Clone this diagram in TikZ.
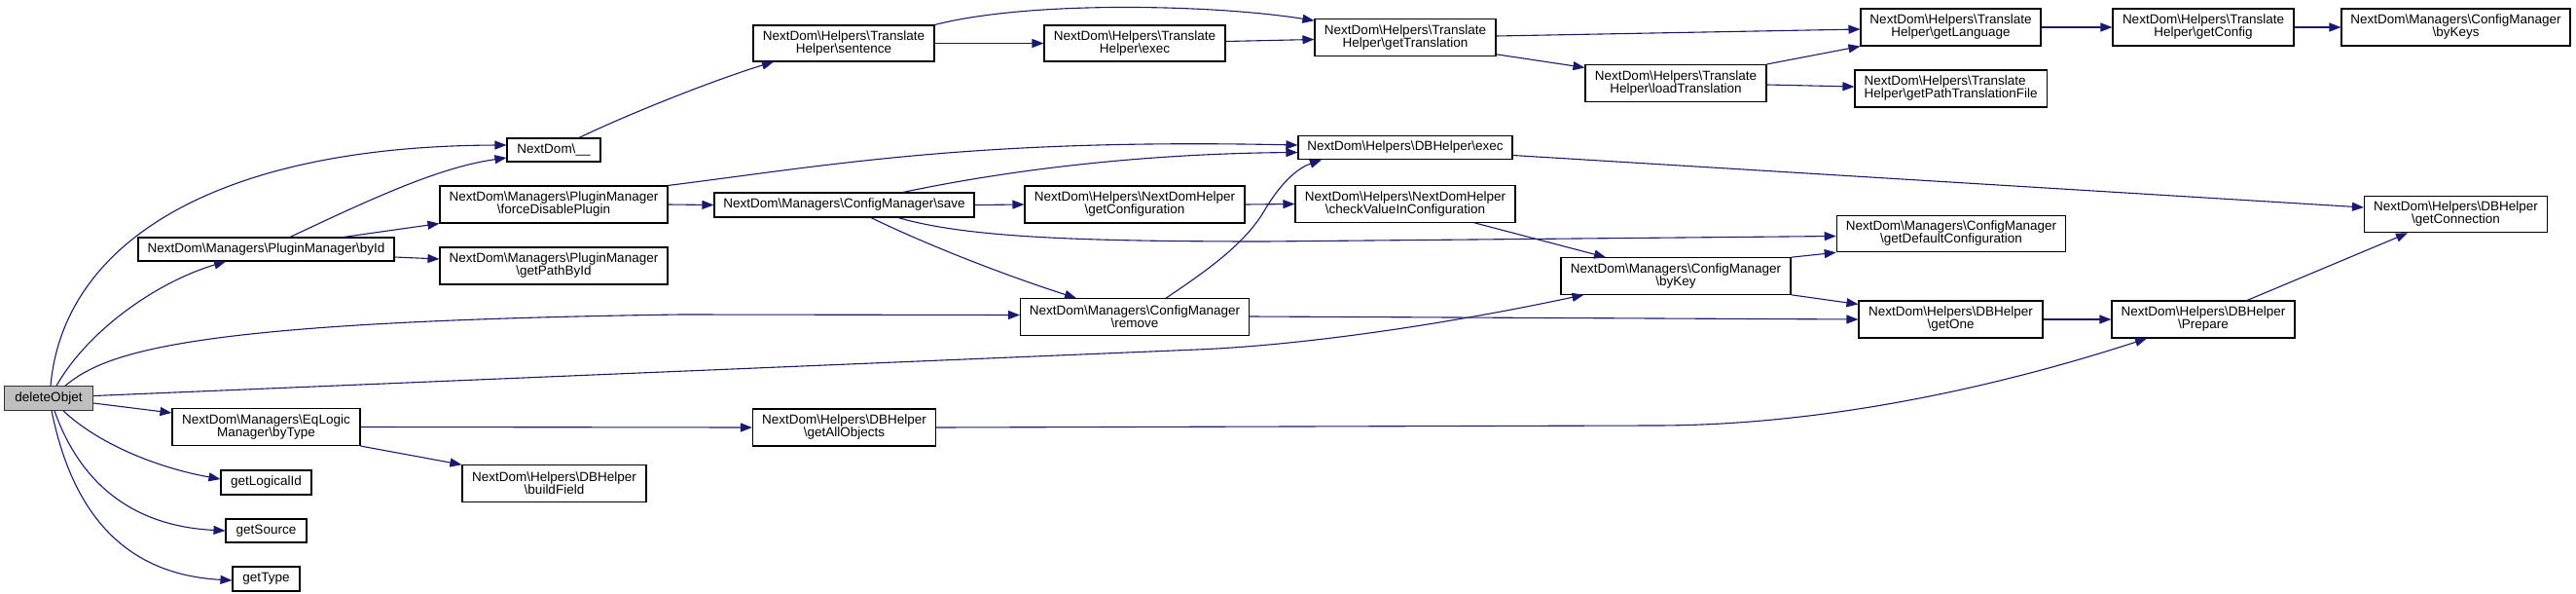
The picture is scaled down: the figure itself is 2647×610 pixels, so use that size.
\documentclass[tikz,border=0pt]{standalone}
\usepackage{fontspec}
\setmainfont{Liberation Sans}
\usetikzlibrary{arrows.meta,calc}
\definecolor{edgeblue}{HTML}{191970}
\definecolor{rootfill}{HTML}{BFBFBF}
\newcommand{\bsl}{\textbackslash}
\tikzset{
  fn/.style={draw=black, line width=1.1pt, rectangle, inner sep=0pt, align=center,
    font=\fontsize{13.5}{13.0}\selectfont, text=black},
  rootnode/.style={fn, fill=rootfill, draw=black!80},
  call/.style={draw=edgeblue, line width=1.1pt, -{Triangle[length=12pt,width=9pt]}, fill=none},
}
\begin{document}
\begin{tikzpicture}[x=1pt,y=-1pt]
\useasboundingbox (0,0) rectangle (2647,610);
% nodes
\node[rootnode, minimum width=91, minimum height=24.5] (del) at (50,409) {deleteObjet};
\node[fn, minimum width=96, minimum height=24] (under) at (569,154) {NextDom\bsl\_\_};
\node[fn, minimum width=263, minimum height=24] (byId) at (273.5,256) {NextDom\bsl Managers\bsl PluginManager\bsl byId};
\node[fn, minimum width=234, minimum height=38] (force) at (569,210) {NextDom\bsl Managers\bsl PluginManager\\\bsl forceDisablePlugin};
\node[fn, minimum width=234, minimum height=38] (pathById) at (569,273) {NextDom\bsl Managers\bsl PluginManager\\\bsl getPathById};
\node[fn, minimum width=193, minimum height=38] (byType) at (273.5,438.5) {NextDom\bsl Managers\bsl EqLogic\\Manager\bsl byType};
\node[fn, minimum width=93, minimum height=25] (logical) at (273.5,495.5) {getLogicalId};
\node[fn, minimum width=83, minimum height=24] (source) at (273.5,545) {getSource};
\node[fn, minimum width=69, minimum height=25] (gtype) at (273.5,594.5) {getType};
\node[fn, minimum width=189, minimum height=37.5] (build) at (569.5,496.5) {NextDom\bsl Helpers\bsl DBHelper\\\bsl buildField};
\node[fn, minimum width=186, minimum height=37] (sentence) at (867,44.5) {NextDom\bsl Helpers\bsl Translate\\Helper\bsl sentence};
\node[fn, minimum width=186, minimum height=37] (texec) at (1166,44.5) {NextDom\bsl Helpers\bsl Translate\\Helper\bsl exec};
\node[fn, minimum width=267, minimum height=25] (save) at (867.5,210.5) {NextDom\bsl Managers\bsl ConfigManager\bsl save};
\node[fn, minimum width=226, minimum height=38] (getconf) at (1166,210) {NextDom\bsl Helpers\bsl NextDomHelper\\\bsl getConfiguration};
\node[fn, minimum width=235, minimum height=37.5] (remove) at (1166,325.5) {NextDom\bsl Managers\bsl ConfigManager\\\bsl remove};
\node[fn, minimum width=188, minimum height=38] (allobj) at (867.5,439) {NextDom\bsl Helpers\bsl DBHelper\\\bsl getAllObjects};
\node[fn, minimum width=186, minimum height=37.5] (gettr) at (1444,38.5) {NextDom\bsl Helpers\bsl Translate\\Helper\bsl getTranslation};
\node[fn, minimum width=220, minimum height=24.5] (dbexec) at (1444,151.5) {NextDom\bsl Helpers\bsl DBHelper\bsl exec};
\node[fn, minimum width=226, minimum height=37.5] (check) at (1444,209.5) {NextDom\bsl Helpers\bsl NextDomHelper\\\bsl checkValueInConfiguration};
\node[fn, minimum width=186, minimum height=38] (load) at (1722,85.5) {NextDom\bsl Helpers\bsl Translate\\Helper\bsl loadTranslation};
\node[fn, minimum width=236, minimum height=37.5] (byKey) at (1722,283.5) {NextDom\bsl Managers\bsl ConfigManager\\\bsl byKey};
\node[fn, minimum width=185, minimum height=38] (lang) at (2004.5,28) {NextDom\bsl Helpers\bsl Translate\\Helper\bsl getLanguage};
\node[fn, minimum width=197.5, minimum height=38, align=left] (pathtr) at (2004.7,91) {NextDom\bsl Helpers\bsl Translate\\Helper\bsl getPathTranslationFile};
\node[fn, minimum width=235.5, minimum height=37.5] (defconf) at (2005,240) {NextDom\bsl Managers\bsl ConfigManager\\\bsl getDefaultConfiguration};
\node[fn, minimum width=189, minimum height=38] (getone) at (2004.5,328) {NextDom\bsl Helpers\bsl DBHelper\\\bsl getOne};
\node[fn, minimum width=186, minimum height=38] (getconfig) at (2264,28) {NextDom\bsl Helpers\bsl Translate\\Helper\bsl getConfig};
\node[fn, minimum width=235, minimum height=38] (byKeys) at (2523.5,28) {NextDom\bsl Managers\bsl ConfigManager\\\bsl byKeys};
\node[fn, minimum width=188, minimum height=37.5] (conn) at (2523.5,220) {NextDom\bsl Helpers\bsl DBHelper\\\bsl getConnection};
\node[fn, minimum width=188, minimum height=38] (prepare) at (2264,328) {NextDom\bsl Helpers\bsl DBHelper\\\bsl Prepare};
% edges from deleteObjet
\draw[call] ($(del.north)+(2,0)$) .. controls (65,250) and (220,150) .. ($(under.west)+(0,-5)$);
\draw[call] ($(del.north)+(8,0)$) .. controls (90,340) and (160,290) .. ($(byId.south)+(-41.5,0)$);
\draw[call] ($(del.north)+(17,0)$) .. controls (110,360) and (200,330) .. (700,323) -- ($(remove.west)+(0,-2)$);
\draw[call] ($(del.east)+(0,-2.5)$) -- (1230,359) .. controls (1350,354) and (1500,330) .. ($(byKey.south west)+(24,0)$);
\draw[call] ($(del.east)+(0,5)$) -- ($(byType.west)+(0,-14.5)$);
\draw[call] ($(del.south)+(15,0)$) .. controls (100,455) and (160,480) .. ($(logical.west)+(0,-3.5)$);
\draw[call] ($(del.south)+(6,0)$) .. controls (80,490) and (130,540) .. (source.west);
\draw[call] ($(del.south)+(3,0)$) .. controls (75,530) and (130,590) .. ($(gtype.west)+(0,1.5)$);
% PluginManager byId
\draw[call] ($(byId.north)+(24.5,0)$) .. controls (380,205) and (450,172) .. ($(under.west)+(0,8)$);
\draw[call] ($(byId.north)+(79.5,0)$) -- (force.south west);
\draw[call] ($(byId.east)+(0,8)$) -- ($(pathById.west)+(0,-7)$);
% NextDom\__
\draw[call] ($(under.north)+(26,0)$) .. controls (650,115) and (740,80) .. ($(sentence.south west)+(21.5,0)$);
% Translate helpers
\draw[call] (sentence.east) -- (texec.west);
\draw[call] (sentence.north east) .. controls (1060,0) and (1250,5) .. ($(gettr.north west)+(0,2)$);
\draw[call] ($(texec.east)+(0,-2)$) -- ($(gettr.west)+(0,2)$);
\draw[call] ($(gettr.east)+(0,-1.5)$) -- ($(lang.west)+(0,2)$);
\draw[call] ($(gettr.south east)+(0,-2)$) -- ($(load.north west)+(0,3.5)$);
\draw[call] (load.north east) -- (lang.south west);
\draw[call] ($(load.east)+(0,1.5)$) -- ($(pathtr.west)+(0,-2)$);
\draw[call] (lang.east) -- (getconfig.west);
\draw[call] (getconfig.east) -- (byKeys.west);
% forceDisablePlugin
\draw[call] (force.north east) .. controls (850,170) and (1000,142) .. ($(dbexec.west)+(0,-2.5)$);
\draw[call] (force.east) -- (save.west);
% ConfigManager save
\draw[call] ($(save.north)+(60.5,0)$) .. controls (1010,180) and (1150,158) .. ($(dbexec.west)+(0,5)$);
\draw[call] (save.east) -- (getconf.west);
\draw[call] ($(save.south)+(55.5,0)$) .. controls (990,243) and (1100,248) .. (1300,248) -- ($(defconf.west)+(0,2.5)$);
\draw[call] ($(save.south)+(27.5,0)$) .. controls (960,255) and (1040,285) .. ($(remove.north)+(-60,0)$);
\draw[call] (getconf.east) -- (check.west);
% remove
\draw[call] ($(remove.north)+(32,0)$) .. controls (1240,278) and (1280,250) .. (1300,215) .. controls (1318,185) and (1335,172) .. ($(dbexec.south west)+(24.5,0)$);
\draw[call] ($(remove.east)+(0,-0.5)$) -- (getone.west);
% others
\draw[call] ($(check.south)+(71,0)$) -- ($(byKey.north)+(-72,0)$);
\draw[call] ($(dbexec.east)+(0,8)$) -- ($(conn.west)+(0,-7)$);
\draw[call] (byKey.north east) -- (defconf.south west);
\draw[call] (byKey.south east) -- ($(getone.north west)+(0,4)$);
\draw[call] (getone.east) -- (prepare.west);
\draw[call] ($(prepare.north)+(45,0)$) -- ($(conn.south)+(-49.5,0)$);
% EqLogic byType
\draw[call] (byType.east) -- (allobj.west);
\draw[call] (byType.south east) -- (build.north west);
\draw[call] (allobj.east) -- (1700,437) .. controls (1880,437) and (2060,395) .. ($(prepare.south)+(-58,0)$);
\end{tikzpicture}
\end{document}
